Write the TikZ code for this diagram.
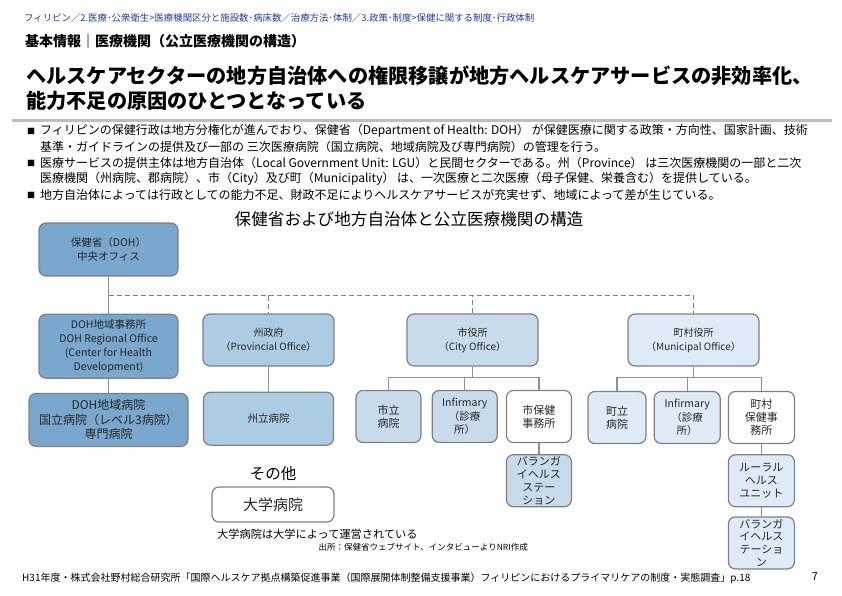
\documentclass[tikz,border=0pt]{standalone}
\usepackage{fontspec}
\setmainfont{Noto Sans CJK JP}
\usetikzlibrary{positioning}

\definecolor{dohblau}{RGB}{122,167,205}
\definecolor{provblau}{RGB}{172,204,228}
\definecolor{stadtblau}{RGB}{199,219,235}
\definecolor{gemblau}{RGB}{222,235,246}
\definecolor{rahmen}{RGB}{128,128,128}
\definecolor{linienfarbe}{RGB}{145,145,145}
\definecolor{pfadblau}{RGB}{30,60,150}
\definecolor{regelgrau}{RGB}{190,190,190}
\newcommand{\schrift}[2]{\fontsize{#1}{#2}\selectfont}

\begin{document}
\begin{tikzpicture}[x=1pt,y=-1pt,
kasten/.style={
  rectangle,
  rounded corners=7pt,
  draw=rahmen,
  line width=1.2pt,
  align=center,
  inner sep=1pt,
  text=black!85,
  font=\schrift{10.5}{14}
},
klein/.style={
  kasten,
  minimum width=65pt,
  minimum height=52pt,
  font=\schrift{11}{12.8}
},
linie/.style={
  draw=linienfarbe,
  line width=1.3pt
},
gestrichelt/.style={
  draw=rahmen,
  line width=1.5pt,
  dash pattern=on 5pt off 3pt
},
zeile/.style={
  anchor=west,
  inner sep=0pt,
  font=\schrift{12}{14}
}]
\useasboundingbox (0,0) rectangle (842,595);

% Kopf
\node[anchor=west, inner sep=0pt, text=pfadblau, font=\schrift{9.4}{10}] (pfad) at (24,18) {フィリピン／2.医療･公衆衛生>医療機関区分と施設数･病床数／治療方法･体制／3.政策･制度>保健に関する制度･行政体制};
\node[anchor=west, inner sep=0pt, font=\bfseries\schrift{14}{16}] (sub) at (25,41) {基本情報｜医療機関（公立医療機関の構造）};
\node[anchor=west, inner sep=0pt, font=\bfseries\schrift{20.2}{24}] (titel1) at (26,76) {ヘルスケアセクターの地方自治体への権限移譲が地方ヘルスケアサービスの非効率化、};
\node[anchor=west, inner sep=0pt, font=\bfseries\schrift{20.2}{24}] (titel2) at (26,101) {能力不足の原因のひとつとなっている};
\draw[draw=regelgrau, line width=3pt] (12,120) -- (832,120);

% Aufzaehlung
\node[zeile, font=\schrift{8}{9}] (p1) at (27,131) {■};
\node[zeile] (z1) at (40,131) {フィリピンの保健行政は地方分権化が進んでおり、保健省（Department of Health: DOH） が保健医療に関する政策・方向性、国家計画、技術};
\node[zeile] (z2) at (40,147) {基準・ガイドラインの提供及び一部の 三次医療病院（国立病院、地域病院及び専門病院）の管理を行う。};
\node[zeile, font=\schrift{8}{9}] (p2) at (27,163) {■};
\node[zeile] (z3) at (40,163) {医療サービスの提供主体は地方自治体（Local Government Unit: LGU）と民間セクターである。州（Province） は三次医療機関の一部と二次};
\node[zeile] (z4) at (40,179) {医療機関（州病院、郡病院）、市（City）及び町（Municipality） は、一次医療と二次医療（母子保健、栄養含む）を提供している。};
\node[zeile, font=\schrift{8}{9}] (p3) at (27,195) {■};
\node[zeile] (z5) at (40,195) {地方自治体によっては行政としての能力不足、財政不足によりヘルスケアサービスが充実せず、地域によって差が生じている。};

\node[inner sep=0pt, font=\schrift{16.6}{18}] (ctitel) at (409,219) {保健省および地方自治体と公立医療機関の構造};

% Organigramm
\node[kasten, fill=dohblau, minimum width=139pt, minimum height=53pt] (DOH) at (108.5,249.5) {保健省（DOH）\\中央オフィス};
\node[kasten, fill=dohblau, minimum width=139pt, minimum height=64pt] (RO) [below=37pt of DOH] {DOH地域事務所\\DOH Regional Office\\(Center for Health\\Development)};
\node[kasten, fill=dohblau, minimum width=159pt, minimum height=53pt, font=\schrift{12}{14.5}] (DH) [below=14pt of RO] {DOH地域病院\\国立病院（レベル3病院）\\専門病院};

\node[kasten, fill=provblau, minimum width=131pt, minimum height=52pt, font=\schrift{10}{14}] (PO) at (268.5,340) {州政府\\（Provincial Office）};
\node[kasten, fill=provblau, minimum width=130pt, minimum height=53pt] (PH) [below=25pt of PO] {州立病院};

\node[kasten, fill=stadtblau, minimum width=131pt, minimum height=52pt, font=\schrift{10}{14}] (CO) at (472.5,340) {市役所\\（City Office）};
\node[klein, fill=stadtblau] (C1) at (388.5,416.5) {市立\\病院};
\node[klein, fill=stadtblau, font=\schrift{10.5}{13.5}] (C2) [right=10pt of C1] {Infirmary\\（診療\\所）};
\node[klein, fill=white] (C3) [right=8pt of C2] {市保健\\事務所};
\node[klein, fill=stadtblau] (C4) [below=11pt of C3] {バランガ\\イヘルス\\ステー\\ション};

\node[kasten, fill=gemblau, minimum width=131pt, minimum height=52pt, font=\schrift{10}{14}] (MO) at (693.5,340) {町村役所\\（Municipal Office）};
\node[klein, fill=gemblau, minimum width=58pt] (M1) at (617,417.5) {町立\\病院};
\node[klein, fill=gemblau, minimum width=66pt, font=\schrift{10.5}{13.5}] (M2) [right=7pt of M1] {Infirmary\\（診療\\所）};
\node[klein, fill=white, minimum width=66pt] (M3) [right=7pt of M2] {町村\\保健事\\務所};
\node[klein, fill=gemblau, minimum width=66pt] (M4) [below=10pt of M3] {ルーラル\\ヘルス\\ユニット};
\node[klein, fill=gemblau, minimum width=66pt] (M5) [below=9pt of M4] {バランガ\\イヘルス\\テーショ\\ン};

% Verbindungen
\draw[linie] (DOH) -- (RO);
\draw[linie] (RO) -- (DH);
\draw[gestrichelt] (DOH.south) ++(0,19) -| (PO.north);
\draw[gestrichelt] (DOH.south) ++(0,19) -| (CO.north);
\draw[gestrichelt] (DOH.south) ++(0,19) -| (MO.north);
\draw[linie] (PO) -- (PH);
\draw[linie] (CO.south) -- ++(0,11) -| (C1.north);
\draw[linie] (CO.south) ++(0,11) -| (C2.north);
\draw[linie] (CO.south) ++(0,11) -| (C3.north);
\draw[linie] (C3) -- (C4);
\draw[linie] (MO.south) -- ++(0,11) -| (M1.north);
\draw[linie] (MO.south) ++(0,11) -| (M2.north);
\draw[linie] (MO.south) ++(0,11) -| (M3.north);
\draw[linie] (M3) -- (M4);
\draw[linie] (M4) -- (M5);

% Sonstige
\node[kasten, fill=white, minimum width=122pt, minimum height=35pt, font=\schrift{15}{16}] (UH) at (273,504.5) {大学病院};
\node[inner sep=0pt, font=\schrift{15.5}{17}] (sonst) [above=6pt of UH] {その他};
\node[anchor=west, inner sep=0pt, font=\schrift{11.2}{13}] (uhtext) at (217,534) {大学病院は大学によって運営されている};
\node[anchor=east, inner sep=0pt, font=\schrift{8.5}{10}] (quelle) at (528,547) {出所：保健省ウェブサイト、インタビューよりNRI作成};

% Fuss
\node[anchor=west, inner sep=0pt, font=\schrift{10}{12}] (fuss) at (22,578) {H31年度・株式会社野村総合研究所「国際ヘルスケア拠点構築促進事業（国際展開体制整備支援事業）フィリピンにおけるプライマリケアの制度・実態調査」p.18};
\node[inner sep=0pt, font=\schrift{11}{12}] (seite) at (815,577) {7};
\end{tikzpicture}
\end{document}
